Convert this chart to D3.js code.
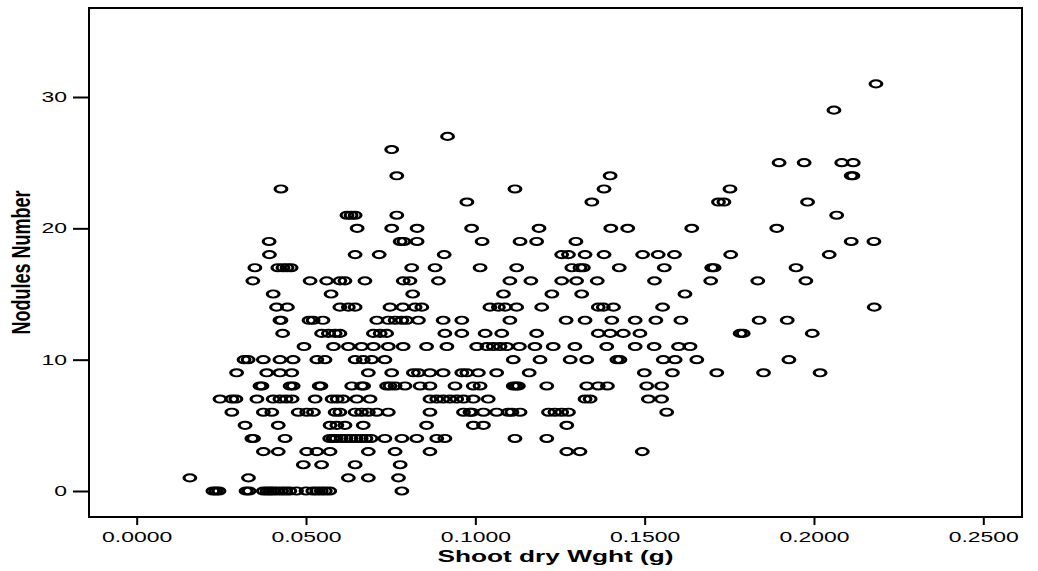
<!DOCTYPE html>
<html>
<head>
<meta charset="utf-8">
<script src="https://d3js.org/d3.v7.min.js"></script>
<style>
  body { margin: 0; background: #fff; }
  .tick text { font-family: "Liberation Sans", Arial, sans-serif; font-size: 14px; fill: #000; }
  .tick line { stroke: #000; stroke-width: 2; }
  .axis path { display: none; }
  .dot { fill: none; stroke: #000; stroke-width: 1.9; }
</style>
</head>
<body>
<div id="chart"></div>
<script>
// nodules number (y) -> shoot dry weight values (x), grouped by row
var rows = [
  [31, [0.2183]],
  [29, [0.2059]],
  [27, [0.0918]],
  [26, [0.0753]],
  [25, [0.1897, 0.1971, 0.2082, 0.2116]],
  [24, [0.0768, 0.1398, 0.2110, 0.2115]],
  [23, [0.0426, 0.1117, 0.1380, 0.1752]],
  [22, [0.0975, 0.1344, 0.1718, 0.1734, 0.1981]],
  [21, [0.0621, 0.0633, 0.0645, 0.0768, 0.2067]],
  [20, [0.0651, 0.0753, 0.0828, 0.0989, 0.1188, 0.1400, 0.1450, 0.1639, 0.1890]],
  [19, [0.0391, 0.0778, 0.0789, 0.0828, 0.1020, 0.1132, 0.1181, 0.1297, 0.2110, 0.2177]],
  [18, [0.0392, 0.0645, 0.0716, 0.0908, 0.1255, 0.1275, 0.1324, 0.1380, 0.1494, 0.1540, 0.1588, 0.1754, 0.2045]],
  [17, [0.0349, 0.0417, 0.0432, 0.0444, 0.0456, 0.0812, 0.0881, 0.1014, 0.1122, 0.1285, 0.1309, 0.1319,
        0.1425, 0.1558, 0.1698, 0.1705, 0.1947]],
  [16, [0.0343, 0.0512, 0.0561, 0.0600, 0.0615, 0.0674, 0.0787, 0.0807, 0.0891, 0.1102, 0.1164, 0.1255,
        0.1299, 0.1360, 0.1529, 0.1695, 0.1834, 0.1976]],
  [15, [0.0403, 0.0574, 0.0815, 0.1083, 0.1226, 0.1314, 0.1619]],
  [14, [0.0413, 0.0445, 0.0600, 0.0625, 0.0645, 0.0748, 0.0786, 0.0822, 0.0842, 0.1043, 0.1068, 0.1088,
        0.1122, 0.1196, 0.1363, 0.1378, 0.1408, 0.1553, 0.2178]],
  [13, [0.0423, 0.0426, 0.0509, 0.0521, 0.0550, 0.0709, 0.0743, 0.0763, 0.0783, 0.0797, 0.0832, 0.0905,
        0.0960, 0.1102, 0.1268, 0.1324, 0.1403, 0.1472, 0.1533, 0.1607, 0.1838, 0.1921]],
  [12, [0.0431, 0.0546, 0.0566, 0.0586, 0.0600, 0.0699, 0.0719, 0.0738, 0.0910, 0.0960, 0.1029, 0.1078,
        0.1181, 0.1363, 0.1398, 0.1437, 0.1486, 0.1782, 0.1791, 0.1995]],
  [11, [0.0494, 0.0581, 0.0625, 0.0664, 0.0699, 0.0743, 0.0787, 0.0856, 0.0916, 0.1004, 0.1034, 0.1053,
        0.1073, 0.1093, 0.1130, 0.1176, 0.1230, 0.1294, 0.1388, 0.1472, 0.1528, 0.1600, 0.1634]],
  [10, [0.0317, 0.0329, 0.0374, 0.0423, 0.0462, 0.0532, 0.0556, 0.0645, 0.0669, 0.0694, 0.0733, 0.1112,
        0.1191, 0.1280, 0.1329, 0.1418, 0.1427, 0.1555, 0.1590, 0.1654, 0.1926]],
  [9, [0.0295, 0.0384, 0.0423, 0.0458, 0.0684, 0.0753, 0.0817, 0.0832, 0.0866, 0.0905, 0.0960, 0.0975,
       0.1009, 0.1063, 0.1159, 0.1499, 0.1582, 0.1713, 0.1851, 0.2018]],
  [8, [0.0364, 0.0370, 0.0453, 0.0462, 0.0539, 0.0544, 0.0635, 0.0664, 0.0670, 0.0738, 0.0748, 0.0763,
       0.0792, 0.0837, 0.0866, 0.0940, 0.0994, 0.1014, 0.1112, 0.1120, 0.1127, 0.1211, 0.1329, 0.1363,
       0.1390, 0.1506, 0.1550]],
  [7, [0.0246, 0.0281, 0.0293, 0.0355, 0.0403, 0.0423, 0.0441, 0.0459, 0.0527, 0.0577, 0.0592, 0.0609,
       0.0650, 0.0689, 0.0866, 0.0886, 0.0905, 0.0925, 0.0945, 0.0965, 0.0994, 0.1038, 0.1324, 0.1339,
       0.1511, 0.1550]],
  [6, [0.0281, 0.0374, 0.0399, 0.0477, 0.0502, 0.0522, 0.0586, 0.0600, 0.0645, 0.0664, 0.0684, 0.0709,
       0.0743, 0.0866, 0.0965, 0.0984, 0.0990, 0.1024, 0.1063, 0.1097, 0.1108, 0.1132, 0.1216, 0.1235,
       0.1255, 0.1275, 0.1565]],
  [5, [0.0320, 0.0418, 0.0571, 0.0591, 0.0615, 0.0669, 0.0856, 0.0994, 0.1024, 0.1270]],
  [4, [0.0340, 0.0345, 0.0438, 0.0570, 0.0580, 0.0589, 0.0604, 0.0618, 0.0633, 0.0648, 0.0663, 0.0677,
       0.0692, 0.0733, 0.0783, 0.0827, 0.0886, 0.0910, 0.1117, 0.1211]],
  [3, [0.0374, 0.0418, 0.0502, 0.0532, 0.0571, 0.0684, 0.0763, 0.0866, 0.1270, 0.1309, 0.1493]],
  [2, [0.0492, 0.0546, 0.0645, 0.0778]],
  [1, [0.0157, 0.0330, 0.0625, 0.0684, 0.0773]],
  [0, [0.0225, 0.0234, 0.0243, 0.0323, 0.0332, 0.0374, 0.0385, 0.0394, 0.0403, 0.0415, 0.0428, 0.0440,
       0.0452, 0.0472, 0.0500, 0.0520, 0.0532, 0.0545, 0.0557, 0.0570, 0.0783]]
];
var xTicks = [0, 0.05, 0.10, 0.15, 0.20, 0.25];
var yTicks = [0, 10, 20, 30];

var data = [];
rows.forEach(function(r) {
  r[1].forEach(function(x) { data.push({x: x, y: r[0]}); });
});

var W = 1038, H = 571;
var frame = {left: 89, top: 8, right: 1022, bottom: 517};
var sx = 1.64; // the original picture is stretched sideways

var svg = d3.select("#chart").append("svg")
  .attr("width", W).attr("height", H);

var xScale = d3.scaleLinear().domain([0, 0.25]).range([136.7, 983.3]);
var yScale = d3.scaleLinear().domain([0, 30]).range([491, 97]);

// points (circles squeezed sideways like the source)
svg.selectAll(".dot")
  .data(data)
  .enter().append("circle")
  .attr("class", "dot")
  .attr("r", 3.6)
  .attr("transform", function(d) {
    return "translate(" + xScale(d.x) + "," + yScale(d.y) + ") scale(" + sx + ",1)";
  });

// frame
svg.append("rect")
  .attr("x", frame.left).attr("y", frame.top)
  .attr("width", frame.right - frame.left)
  .attr("height", frame.bottom - frame.top)
  .attr("fill", "none").attr("stroke", "#000").attr("stroke-width", 2);

var xaxis = d3.axisBottom(xScale)
  .tickValues(xTicks)
  .tickSize(8).tickPadding(6)
  .tickFormat(d3.format(".4f"));
svg.append("g")
  .attr("class", "axis")
  .attr("transform", "translate(0," + frame.bottom + ")")
  .call(xaxis)
  .selectAll("text")
  .attr("dy", null)
  .attr("y", 25)
  .attr("transform", "scale(" + sx + ",1)");

var yaxis = d3.axisLeft(yScale)
  .tickValues(yTicks)
  .tickSize(16).tickPadding(6);
svg.append("g")
  .attr("class", "axis")
  .attr("transform", "translate(" + frame.left + ",0)")
  .call(yaxis)
  .selectAll("text")
  .attr("x", -22 / sx)
  .attr("transform", "scale(" + sx + ",1)");

svg.append("text")
  .attr("transform", "translate(" + ((frame.left + frame.right) / 2) + ",562) scale(" + sx + ",1)")
  .attr("text-anchor", "middle")
  .style("font-family", "'Liberation Sans', Arial, sans-serif")
  .style("font-weight", "bold")
  .style("font-size", "16px")
  .text("Shoot dry Wght (g)");

svg.append("text")
  .attr("transform", "translate(30," + ((frame.top + frame.bottom) / 2) + ") scale(1.4,1) rotate(-90)")
  .attr("text-anchor", "middle")
  .style("font-family", "'Liberation Sans', Arial, sans-serif")
  .style("font-weight", "bold")
  .style("font-size", "18px")
  .text("Nodules Number");
</script>
</body>
</html>
